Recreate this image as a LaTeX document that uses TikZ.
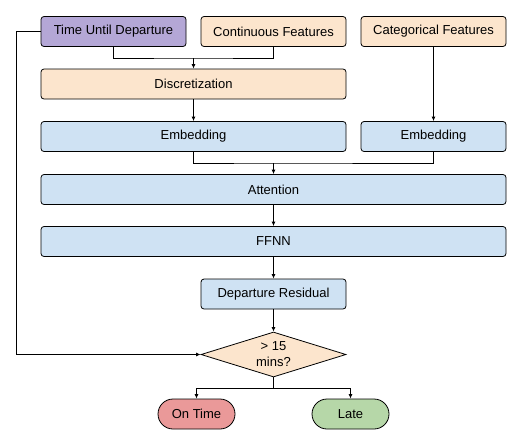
\documentclass[tikz,border=0pt]{standalone}
\usepackage{fontspec}
\setmainfont{Liberation Sans}
\usepackage{xcolor}
\usetikzlibrary{arrows.meta,shapes.geometric}
\definecolor{timecol}{HTML}{B4A7D6}
\definecolor{featcol}{HTML}{FCE5CD}
\definecolor{modcol}{HTML}{CFE2F3}
\definecolor{ontimecol}{HTML}{EA9999}
\definecolor{latecol}{HTML}{B6D7A8}

\begin{document}
\begin{tikzpicture}[x=1pt,y=-1pt,line width=0.8pt,
    box/.style={draw,rectangle,rounded corners=3pt,minimum height=30pt,inner sep=0pt,font=\fontsize{13}{15}\selectfont},
    pill/.style={draw,rectangle,rounded corners=15pt,minimum width=77pt,minimum height=30pt,inner sep=0pt,font=\fontsize{13}{15}\selectfont},
    arr/.style={-{Latex[length=4.5pt,width=4pt]}}]
    \useasboundingbox (0,0) rectangle (529,442);
    \node[box,fill=timecol,minimum width=145pt] (time) at (113.5,31.5) {Time Until Departure};
    \node[box,fill=featcol,minimum width=145pt] (cont) at (273.5,31.5) {Continuous Features};
    \node[box,fill=featcol,minimum width=145pt] (cat) at (433.5,31.5) {Categorical Features};
    \node[box,fill=featcol,minimum width=305pt] (disc) at (193.5,84) {Discretization};
    \node[box,fill=modcol,minimum width=305pt] (emb1) at (193.5,136.5) {Embedding};
    \node[box,fill=modcol,minimum width=145pt] (emb2) at (433.5,136.5) {Embedding};
    \node[box,fill=modcol,minimum width=465pt] (att) at (273.5,189.5) {Attention};
    \node[box,fill=modcol,minimum width=465pt] (ffnn) at (273.5,241.5) {FFNN};
    \node[box,fill=modcol,minimum width=145pt] (res) at (273.5,294) {Departure Residual};
    \node[draw,diamond,fill=featcol,aspect=3.2,minimum width=145pt,minimum height=45pt,inner sep=0pt,
        align=center,font=\fontsize{13}{16}\selectfont] (decide) at (273.5,354.5) {> 15\\mins?};
    \node[pill,fill=ontimecol] (ontime) at (196.5,414) {On Time};
    \node[pill,fill=latecol] (late) at (350.5,414) {Late};
    \coordinate (j1) at (193.5,58);
    \coordinate (j2) at (273.5,163);
    \coordinate (j3) at (273.5,388);
    \coordinate (left) at (16,31.5);
    \draw (time.south) |- (j1) -| (cont.south);
    \draw[arr] (j1) -- (disc.north);
    \draw[arr] (disc) -- (emb1);
    \draw[arr] (cat) -- (emb2);
    \draw (emb1.south) |- (j2) -| (emb2.south);
    \draw[arr] (j2) -- (att.north);
    \draw[arr] (att) -- (ffnn);
    \draw[arr] (ffnn) -- (res);
    \draw[arr] (res) -- (decide);
    \draw[arr] (time.west) -- (left) |- (decide.west);
    \draw (decide.south) -- (j3);
    \draw[arr] (j3) -| (ontime.north);
    \draw[arr] (j3) -| (late.north);
\end{tikzpicture}
\end{document}
